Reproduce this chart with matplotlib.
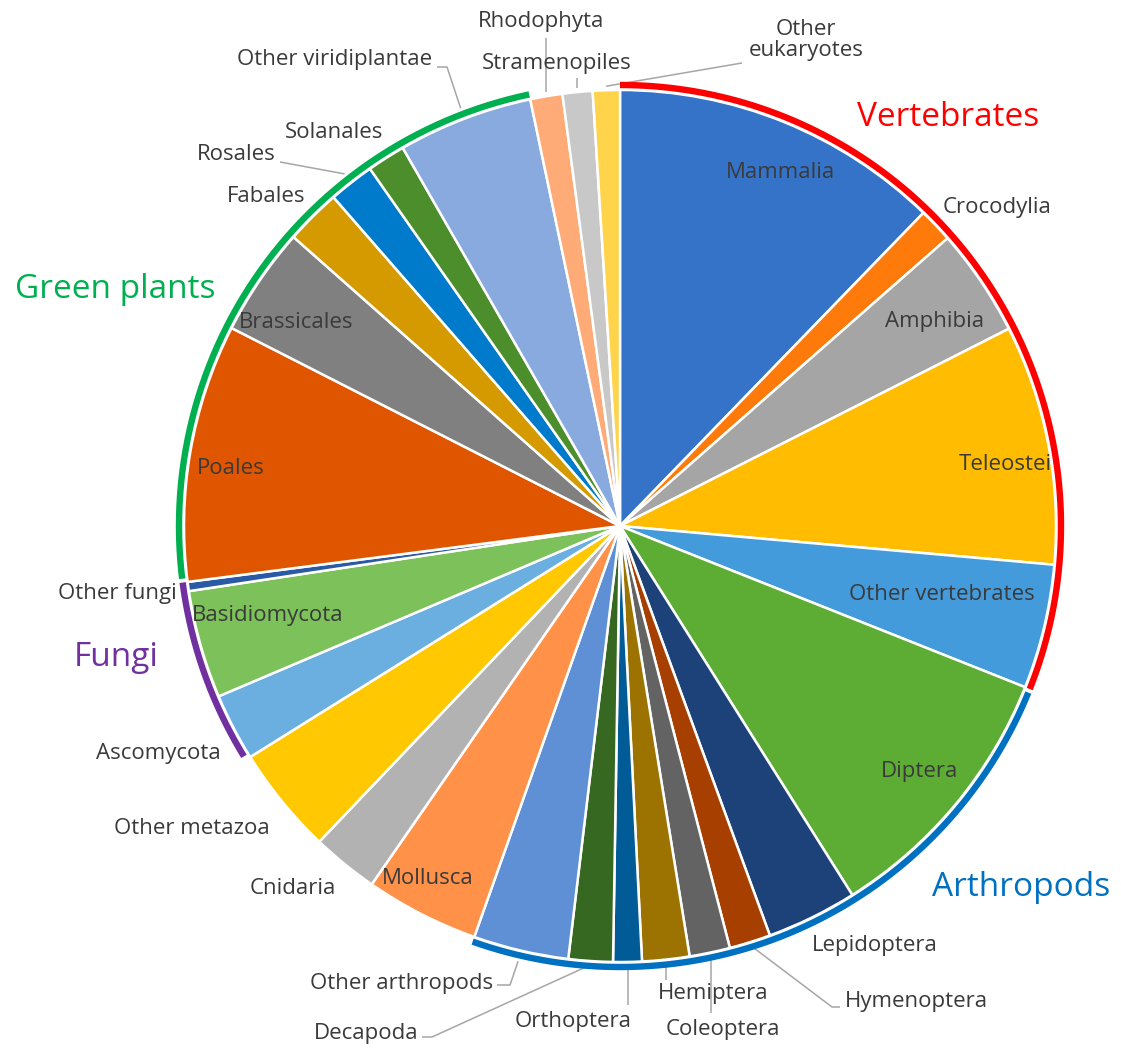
import numpy as np
import matplotlib
matplotlib.use("Agg")
import matplotlib.pyplot as plt

W, H = 1121, 1051

# slice shares (%), clockwise from 12 o'clock
names = ["Mammalia", "Crocodylia", "Amphibia", "Teleostei", "Other vertebrates",
         "Diptera", "Lepidoptera", "Hymenoptera", "Coleoptera", "Hemiptera",
         "Orthoptera", "Decapoda", "Other arthropods", "Mollusca", "Cnidaria",
         "Other metazoa", "Ascomycota", "Basidiomycota", "Other fungi", "Poales",
         "Brassicales", "Fabales", "Rosales", "Solanales", "Other viridiplantae",
         "Rhodophyta", "Stramenopiles", "Other eukaryotes"]
shares = [12.25, 1.28, 4.0, 8.89, 4.61,
          10.03, 3.36, 1.53, 1.5, 1.75,
          1.06, 1.64, 3.53, 4.22, 2.47,
          4.0, 2.5, 4.0, 0.34, 9.55,
          4.03, 2.06, 1.69, 1.42, 5.0,
          1.19, 1.11, 1.0]
colors = ["#3473C7", "#FE7A0A", "#A5A5A5", "#FFBC00", "#449BDB",
          "#5DAD35", "#1C4279", "#A63F00", "#636363", "#9C7200",
          "#005B96", "#366821", "#5F8FD5", "#FF9148", "#B2B2B2",
          "#FFC800", "#6AAFE0", "#7CC15A", "#2A59A5", "#E05600",
          "#808080", "#D49A00", "#007ACB", "#4B8E2B", "#89AADF",
          "#FFAB78", "#C8C8C8", "#FFD44B"]

# outer group arcs: (label, first slice, last slice, colour)
group_labels = ["Vertebrates", "Arthropods", "Fungi", "Green plants"]
group_first = ["Mammalia", "Diptera", "Ascomycota", "Poales"]
group_last = ["Other vertebrates", "Other arthropods", "Other fungi", "Other viridiplantae"]
group_colors = ["#FF0000", "#0070C0", "#7030A0", "#00B050"]

# layout (pixel coords, y down)
CX, CY, R = 620, 526, 436
label_pos = {
    "Mammalia": (780, 173, "center"), "Crocodylia": (997, 208, "center"),
    "Amphibia": (935, 322, "center"), "Teleostei": (1005, 465, "center"),
    "Other vertebrates": (942, 594, "center"), "Diptera": (920, 772, "center"),
    "Lepidoptera": (875, 945, "center"), "Hymenoptera": (845, 1002, "left"),
    "Coleoptera": (723, 1030, "center"), "Hemiptera": (713, 993, "center"),
    "Orthoptera": (573, 1022, "center"), "Decapoda": (418, 1033, "right"),
    "Other arthropods": (493, 983, "right"), "Mollusca": (428, 878, "center"),
    "Cnidaria": (293, 889, "center"), "Other metazoa": (192, 828, "center"),
    "Ascomycota": (158, 754, "center"), "Basidiomycota": (268, 616, "center"),
    "Other fungi": (117, 594, "center"), "Poales": (231, 468, "center"),
    "Brassicales": (296, 323, "center"), "Fabales": (266, 196, "center"),
    "Rosales": (276, 155, "right"), "Solanales": (334, 133, "center"),
    "Other viridiplantae": (432, 60, "right"), "Rhodophyta": (541, 22, "center"),
    "Stramenopiles": (557, 63, "center"), "Other eukaryotes": (806, 40, "center"),
}
# leader lines: bend points after the anchor on the slice
leaders = {
    "Hymenoptera": [(832, 1007), (840, 1007)],
    "Coleoptera": [(None, 1013)],
    "Hemiptera": [(None, 980)],
    "Orthoptera": [(None, 1005)],
    "Decapoda": [(432, 1037), (422, 1037)],
    "Other arthropods": [(510, 985), (497, 985)],
    "Rosales": [(280, 162)],
    "Other viridiplantae": [(447, 67), (437, 67)],
    "Rhodophyta": [(None, 38)],
    "Stramenopiles": [(None, 78)],
    "Other eukaryotes": [(742, 63)],
}
group_pos = [(948, 118), (1021, 887), (116, 657), (115, 290)]

plt.rcParams["font.family"] = ["Open Sans", "DejaVu Sans"]
TXT = "#3A3A3A"

fig = plt.figure(figsize=(W / 100, H / 100), dpi=100)
ax = fig.add_axes([0, 0, 1, 1])

wedges, _ = ax.pie(shares, colors=colors, startangle=90, counterclock=False,
                   center=(CX, H - CY), radius=R,
                   wedgeprops=dict(edgecolor="white", linewidth=1.8))
ax.set_xlim(0, W)
ax.set_ylim(0, H)
ax.set_aspect("equal")
ax.axis("off")


def P(x, y):
    return x, H - y


def on_circle(theta, r):
    t = np.deg2rad(theta)
    return CX + r * np.cos(t), CY - r * np.sin(t)


for name, w in zip(names, wedges):
    x, y, ha = label_pos[name]
    text = "Other\neukaryotes" if name == "Other eukaryotes" else name
    ax.text(*P(x, y), text, ha=ha, va="center", fontsize=16, color=TXT,
            linespacing=1.05)
    if name in leaders:
        mid = (w.theta1 + w.theta2) / 2
        off = 11 if 100 < mid % 360 < 260 else 4
        ax0, ay0 = on_circle(mid, R + off)
        pts = [(ax0, ay0)]
        for bx, by in leaders[name]:
            pts.append((ax0 if bx is None else bx, by))
        xs = [p[0] for p in pts]
        ys = [H - p[1] for p in pts]
        ax.plot(xs, ys, color="#A6A6A6", lw=1.1, solid_capstyle="butt")

# group arcs and labels
for lab, f, l, c, pos in zip(group_labels, group_first, group_last, group_colors, group_pos):
    wf = wedges[names.index(f)]
    wl = wedges[names.index(l)]
    t2 = wf.theta2 - (0 if f == "Mammalia" else 0.5)
    t1 = wl.theta1
    th = np.deg2rad(np.linspace(t1, t2, 300))
    ax.plot(CX + (R + 5) * np.cos(th), H - CY + (R + 5) * np.sin(th),
            color=c, lw=4.6, solid_capstyle="butt")
    ax.text(*P(*pos), lab, ha="center", va="center", fontsize=24, color=c)

fig.savefig("out.png", dpi=100)
